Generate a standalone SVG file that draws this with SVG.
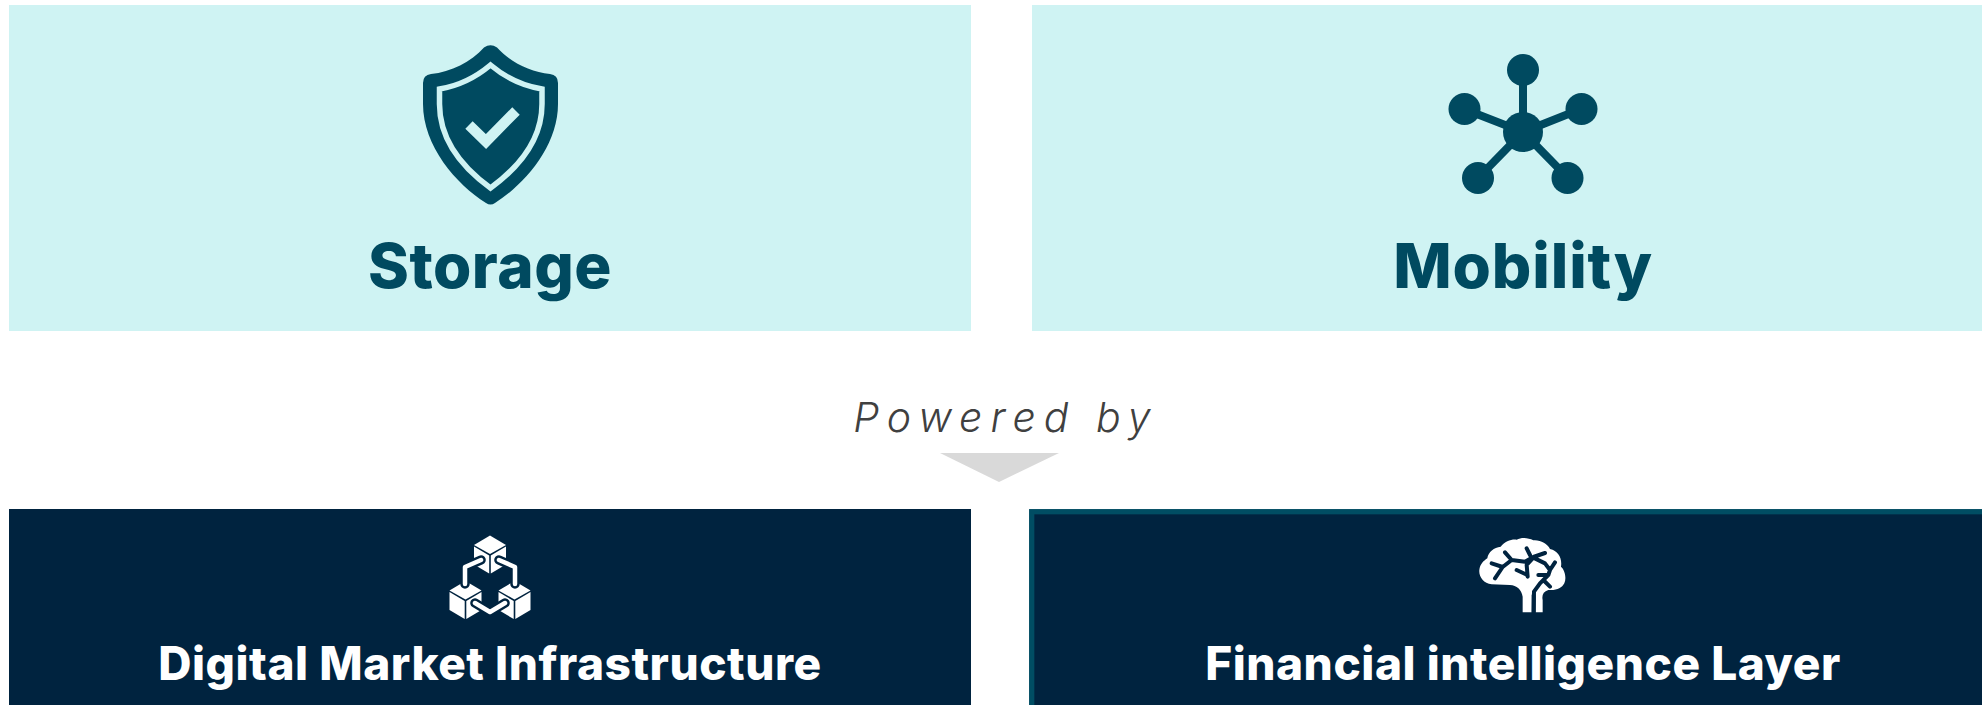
<svg xmlns="http://www.w3.org/2000/svg" width="1982" height="705" viewBox="0 0 1982 705">
<style>
.t{font-family:"Inter","Noto Sans","Liberation Sans",sans-serif;font-weight:800;text-anchor:middle}
.lt{fill:#cff3f3}.dk{fill:#00233f}.ic{fill:#004a60}
.tl{font-size:62px;fill:#004a60;letter-spacing:.5px}
.td{font-size:46px;fill:#fff;letter-spacing:.55px}
.br{fill:none;stroke:#00233f;stroke-width:12;stroke-linecap:round;stroke-linejoin:round}
.sp{stroke:#004a60;stroke-width:8;fill:none}
</style>
<defs>
<g id="cube"><path d="M0 -19 L16 -9.500 L0 -0.500 L-16 -9.500Z" fill="#fff"/><path d="M-16 -8 L-0.800 1 L-0.800 19 L-16 10Z" fill="#fff"/><path d="M16 -8 L0.800 1 L0.800 19 L16 10Z" fill="#fff"/></g>
</defs>
<rect width="1982" height="705" fill="#fff"/>
<g id="storage">
<rect class="lt" x="9" y="5" width="962" height="326"/>
<path class="ic" d="M484 47.500Q490.500 43 497 47.500C510 62 530 72 550 74Q558 75 558 83L558 104C558 146 525 184 495 203Q490.500 206 486 203C456 184 423 146 423 104L423 83Q423 75 431 74C451 72 471 62 484 47.500Z"/>
<path d="M490.500 65C475 78 458 86 439.500 89L439.500 104C439.500 140 463 168 490.500 188C518 168 542 140 542 104L542 89C523 86 506 78 490.500 65Z" fill="none" stroke="#cff3f3" stroke-width="5.500"/>
<path d="M469 125L486 141.500L516 111" fill="none" stroke="#cff3f3" stroke-width="10.500"/>
<text class="t tl" x="490" y="288">Storage</text>
</g>
<g id="mobility">
<rect class="lt" x="1032" y="5" width="950" height="326"/>
<path class="sp" d="M1523 70V132M1464 109L1523 132L1581 109M1478 178L1523 132L1568 178"/>
<circle class="ic" cx="1523" cy="132" r="20"/>
<circle class="ic" cx="1523" cy="70" r="16"/>
<circle class="ic" cx="1464.500" cy="109" r="16"/>
<circle class="ic" cx="1581.500" cy="109" r="16"/>
<circle class="ic" cx="1478" cy="178" r="16"/>
<circle class="ic" cx="1567.500" cy="178" r="16"/>
<text class="t tl" x="1523" y="288" style="letter-spacing:.9px">Mobility</text>
</g>
<g id="powered-by">
<text x="1006" y="431.500" text-anchor="middle" style="font-family:'Inter','Lato','Liberation Sans',sans-serif;font-weight:300;font-style:italic;font-size:41px;letter-spacing:8px" fill="#404040">Powered by</text>
<path d="M940 453H1059L999 482Z" fill="#d9d9d9"/>
</g>
<g id="digital-market-infrastructure">
<rect class="dk" x="9" y="509" width="962" height="196"/>
<use href="#cube" x="490" y="554.500"/>
<use href="#cube" x="465.500" y="600"/>
<use href="#cube" x="514.500" y="600"/>
<g fill="none" stroke-linecap="round" stroke-linejoin="round">
<path d="M465 584V567L481 560M515 584V567L499 560M475 603L490 612L505 603" stroke="#00233f" stroke-width="9.500"/>
<path d="M465 584V567L481 560M515 584V567L499 560M475 603L490 612L505 603" stroke="#fff" stroke-width="4.500"/>
</g>
<text class="t td" x="490" y="680">Digital Market Infrastructure</text>
</g>
<g id="financial-intelligence-layer">
<rect class="dk" x="1031.700" y="511.700" width="960" height="200" stroke="#004d63" stroke-width="5.300"/>
<g transform="translate(1450 525) scale(.3333)">
<path fill="#fff" d="M218 262L218 215C215 195 200 180 180 180L125 178C100 175 86 155 88 135C90 118 100 108 112 100C115 80 132 68 152 65C165 48 185 42 200 44C215 36 235 38 250 46C270 44 292 55 300 72C325 78 337 100 333 125C345 135 350 160 343 175C335 190 320 197 295 195C280 200 275 210 278 225L278 262L257 262L257 215C257 205 250 195 245 210L245 262Z"/>
<path class="br" d="M125 115L158 126L185 105L165 82M185 105L225 110L250 96L285 84M158 126L135 160M230 70L240 90M250 98L230 120L233 155M200 135L232 150M250 98L285 115L300 135L315 112M300 135L295 150L265 150M295 150L270 175L252 200L251 262M280 165L300 185"/>
</g>
<text class="t td" x="1523" y="680">Financial intelligence Layer</text>
</g>
<g id="connectors"></g>
</svg>
